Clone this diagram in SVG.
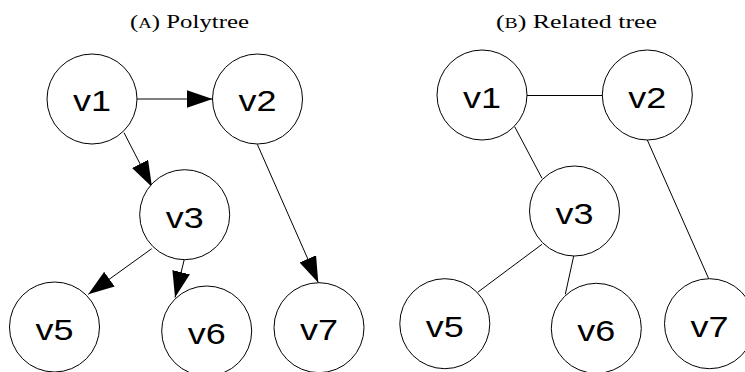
<svg xmlns="http://www.w3.org/2000/svg" width="745" height="372" viewBox="0 0 745 372">
<style>
.n circle{fill:#fff;stroke:#000;stroke-width:1}
.n text{font-family:"Liberation Sans",Arial,sans-serif;font-size:30px;fill:#000;text-anchor:middle}
.t{font-family:"Liberation Serif","Times New Roman",serif;font-size:18.5px;fill:#000}
.e line{stroke:#000;stroke-width:1}
</style>
<defs>
<marker id="ah" markerUnits="userSpaceOnUse" viewBox="0 0 26 18" refX="26" refY="9" markerWidth="26" markerHeight="18" orient="auto">
<path d="M0,0 L26,9 L0,18 Z" fill="#000"/>
</marker>
</defs>
<rect width="745" height="372" fill="#fff"/>
<text class="t" x="130" y="28.3" textLength="119" lengthAdjust="spacingAndGlyphs">(<tspan font-size="14">A</tspan>) Polytree</text>
<text class="t" x="496" y="28.3" textLength="161" lengthAdjust="spacingAndGlyphs">(<tspan font-size="14">B</tspan>) Related tree</text>
<g id="edges-a" class="e">
<line x1="137" y1="99" x2="212.5" y2="99" marker-end="url(#ah)"/>
<line x1="124" y1="132.7" x2="152" y2="187" marker-end="url(#ah)"/>
<line x1="151.7" y1="248.7" x2="88.3" y2="294.3" marker-end="url(#ah)"/>
<line x1="184.3" y1="259.3" x2="175" y2="297.5" marker-end="url(#ah)"/>
<line x1="257.3" y1="144.3" x2="318.3" y2="282.7" marker-end="url(#ah)"/>
</g>
<g id="edges-b" class="e">
<line x1="527" y1="95.5" x2="602" y2="95.5"/>
<line x1="514.7" y1="126.7" x2="542" y2="178.3"/>
<line x1="647.3" y1="140" x2="708.7" y2="278.7"/>
<line x1="542" y1="244.3" x2="478" y2="292"/>
<line x1="573.7" y1="256" x2="565.3" y2="294.3"/>
</g>
<g id="a-v1" class="n"><circle cx="92" cy="99" r="45"/><text x="92" y="111" textLength="38" lengthAdjust="spacingAndGlyphs">v1</text></g>
<g id="a-v2" class="n"><circle cx="257.5" cy="99" r="45"/><text x="257.5" y="111" textLength="38" lengthAdjust="spacingAndGlyphs">v2</text></g>
<g id="a-v3" class="n"><circle cx="184.7" cy="214.7" r="45"/><text x="184.7" y="227.5" textLength="38" lengthAdjust="spacingAndGlyphs">v3</text></g>
<g id="a-v5" class="n"><circle cx="54.5" cy="327" r="45"/><text x="54.5" y="339.5" textLength="38" lengthAdjust="spacingAndGlyphs">v5</text></g>
<g id="a-v6" class="n"><circle cx="206.7" cy="331" r="45"/><text x="206.7" y="343.5" textLength="38" lengthAdjust="spacingAndGlyphs">v6</text></g>
<g id="a-v7" class="n"><circle cx="319" cy="327.7" r="45"/><text x="319" y="340" textLength="38" lengthAdjust="spacingAndGlyphs">v7</text></g>
<g id="b-v1" class="n"><circle cx="482" cy="95" r="45"/><text x="482" y="108" textLength="38" lengthAdjust="spacingAndGlyphs">v1</text></g>
<g id="b-v2" class="n"><circle cx="647.3" cy="95" r="45"/><text x="647.3" y="108" textLength="38" lengthAdjust="spacingAndGlyphs">v2</text></g>
<g id="b-v3" class="n"><circle cx="574.5" cy="211" r="45"/><text x="574.5" y="224" textLength="38" lengthAdjust="spacingAndGlyphs">v3</text></g>
<g id="b-v5" class="n"><circle cx="444.8" cy="323.7" r="45"/><text x="444.8" y="336.5" textLength="38" lengthAdjust="spacingAndGlyphs">v5</text></g>
<g id="b-v6" class="n"><circle cx="596.3" cy="328.3" r="45"/><text x="596.3" y="341" textLength="38" lengthAdjust="spacingAndGlyphs">v6</text></g>
<g id="b-v7" class="n"><circle cx="709.5" cy="323.7" r="45"/><text x="709.5" y="336.5" textLength="38" lengthAdjust="spacingAndGlyphs">v7</text></g>
</svg>
